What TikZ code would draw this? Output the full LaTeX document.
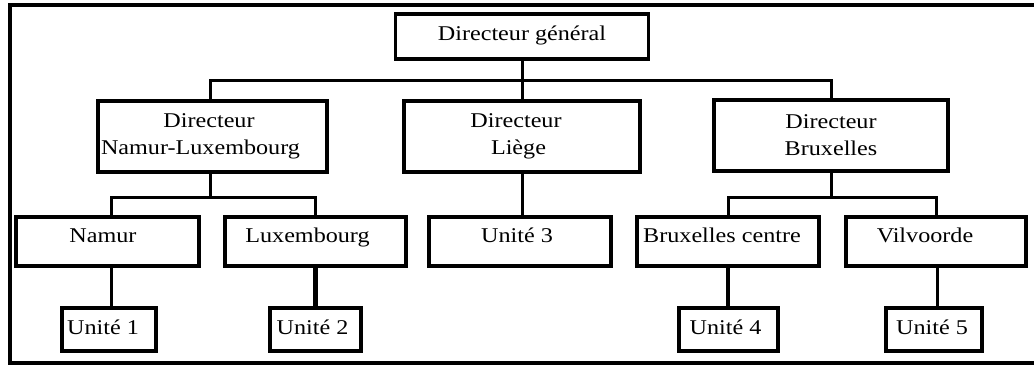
\documentclass[tikz,border=0pt]{standalone}
\usepackage{fontspec}
\setmainfont{Liberation Serif}[FakeStretch=1.15]
% pad the end of a line so that it sits left of the box centre
\newcommand\padr[1]{\hspace*{#1}}
\begin{document}
\begin{tikzpicture}[x=1pt,y=-1pt,
  box/.style={draw,line width=3.5pt,inner sep=0pt,align=center,
    font=\fontsize{21}{27}\selectfont},
  unitbox/.style={box,minimum height=49pt,text height=8pt,text depth=7pt},
  leafbox/.style={box,minimum height=43pt,text height=13pt,text depth=3pt},
  link/.style={line width=3pt},
  boldlink/.style={line width=4.5pt}]
\useasboundingbox (0,0) rectangle (1034,367);
% outer frame, open on the right
\draw[line width=3.5pt] (1034,5) -- (10,5) -- (10,363) -- (1034,363);

% top level
\node[box,minimum width=253pt,minimum height=45pt,text height=12pt,text depth=5pt]
  (gen) at (522,36.5) {Directeur général};

% regional directors
\node[box,minimum width=229pt,minimum height=71pt] (nl) at (212.5,136.5)
  {Directeur\padr{7pt}\\Namur-Luxembourg\padr{24pt}};
\node[box,minimum width=236pt,minimum height=71pt] (lg) at (522,136.5)
  {Directeur\padr{12pt}\\Liège\padr{7pt}};
\node[box,minimum width=234pt,minimum height=71pt] (bx) at (831,135.5)
  {Directeur\\Bruxelles};

% sites
\node[unitbox,minimum width=183pt] (nam) at (107.5,241.5) {Namur\padr{9pt}};
\node[unitbox,minimum width=181pt] (lux) at (315.5,241.5) {Luxembourg\padr{16pt}};
\node[unitbox,minimum width=182pt] (u3)  at (520,241.5) {Unité 3\padr{6pt}};
\node[unitbox,minimum width=182pt] (bc)  at (728,241.5) {Bruxelles centre\padr{12pt}};
\node[unitbox,minimum width=180pt] (vv)  at (936,241.5) {Vilvoorde\padr{22pt}};

% units
\node[leafbox,minimum width=94pt] (u1) at (109,329.5) {Unité 1\padr{12pt}};
\node[leafbox,minimum width=91pt] (u2) at (315.5,329.5) {Unité 2\padr{6pt}};
\node[leafbox,minimum width=99pt] (u4) at (728.5,329.5) {Unité 4\padr{6pt}};
\node[leafbox,minimum width=96pt] (u5) at (934,329.5) {Unité 5\padr{4pt}};

% bus levels
\coordinate (busA) at (0,80);
\coordinate (busB) at (0,197);

% general director to regional directors
\draw[link] (gen.south) -- (gen.south |- lg.north);
\draw[link] ([xshift=-2pt]nl.north) -- ([xshift=-2pt]nl.north |- busA)
  -- (bx.north |- busA) -- (bx.north);

% Namur-Luxembourg to its sites
\draw[link] ([xshift=-2pt]nl.south) -- ([xshift=-2pt]nl.south |- busB);
\draw[link] ([xshift=4pt]nam.north) -- ([xshift=4pt]nam.north |- busB)
  -- (lux.north |- busB) -- (lux.north);

% Liège to Unité 3
\draw[link] (lg.south) -- (lg.south |- u3.north);

% Bruxelles to its sites
\draw[link] (bx.south) -- (bx.south |- busB);
\draw[link] (bc.north) -- (bc.north |- busB) -- (vv.north |- busB) -- (vv.north);

% sites to units
\draw[link] ([xshift=4pt]nam.south) -- ([xshift=4pt]nam.south |- u1.north);
\draw[boldlink] (lux.south) -- (lux.south |- u2.north);
\draw[boldlink] (bc.south) -- (bc.south |- u4.north);
\draw[link] ([xshift=1pt]vv.south) -- ([xshift=1pt]vv.south |- u5.north);
\end{tikzpicture}
\end{document}
